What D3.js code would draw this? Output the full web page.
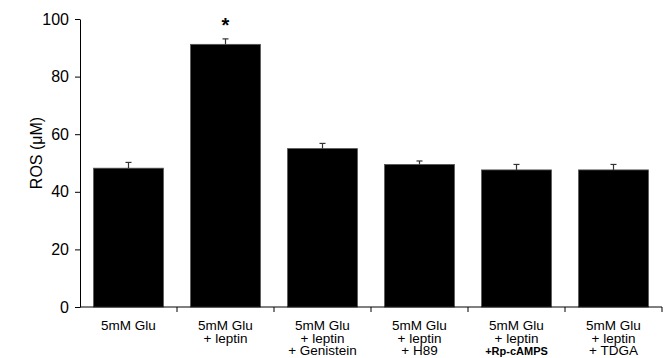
<!DOCTYPE html>
<html>
<head>
<meta charset="utf-8">
<script src="https://cdn.jsdelivr.net/npm/d3@7"></script>
<style>
  body { margin: 0; background: #fff; }
  svg { font-family: "Liberation Sans", Arial, sans-serif; }
</style>
</head>
<body>
<svg id="chart" width="666" height="358"></svg>
<script>
// data
var groups = ["g1", "g2", "g3", "g4", "g5", "g6"];
var labels = [
  ["5mM Glu"],
  ["5mM Glu", "+ leptin"],
  ["5mM Glu", "+ leptin", "+ Genistein"],
  ["5mM Glu", "+ leptin", "+ H89"],
  ["5mM Glu", "+ leptin", "+Rp-cAMPS"],
  ["5mM Glu", "+ leptin", "+ TDGA"]
];
var values = [48.2, 91.2, 55.0, 49.5, 47.6, 47.6];
var errors = [2.0, 1.9, 1.8, 1.2, 1.9, 1.9];
var signif = [false, true, false, false, false, false];
var yTicks = [0, 20, 40, 60, 80, 100];

var svg = d3.select("#chart"),
	mLeft = 80, mRight = 662, mTop = 19, mBottom = 307;

var x = d3.scaleBand()
	.domain(groups)
	.range([mLeft, mRight])
	.paddingInner(0.28)
	.paddingOuter(0.14);

var y = d3.scaleLinear()
	.domain([0, 100])
	.range([mBottom, mTop]);

// bars
svg.selectAll("rect.bar")
	.data(values)
	.enter().append("rect")
	.attr("class", "bar")
	.attr("x", function(d, i) { return x(groups[i]); })
	.attr("y", function(d) { return y(d); })
	.attr("width", x.bandwidth())
	.attr("height", function(d) { return y(0) - y(d); })
	.attr("fill", "#000")
	.attr("stroke", "#555")
	.attr("stroke-width", 0.8);

// error bars
var eb = svg.selectAll("g.err")
	.data(values)
	.enter().append("g")
	.attr("class", "err")
	.attr("stroke", "#333")
	.attr("stroke-width", 1.2);

eb.append("line")
	.attr("x1", function(d, i) { return x(groups[i]) + x.bandwidth() / 2; })
	.attr("x2", function(d, i) { return x(groups[i]) + x.bandwidth() / 2; })
	.attr("y1", function(d) { return y(d); })
	.attr("y2", function(d, i) { return y(d + errors[i]); });

eb.append("line")
	.attr("x1", function(d, i) { return x(groups[i]) + x.bandwidth() / 2 - 3; })
	.attr("x2", function(d, i) { return x(groups[i]) + x.bandwidth() / 2 + 3; })
	.attr("y1", function(d, i) { return y(d + errors[i]); })
	.attr("y2", function(d, i) { return y(d + errors[i]); });

// significance star
var si = signif.indexOf(true);
svg.append("text")
	.attr("x", x(groups[si]) + x.bandwidth() / 2)
	.attr("y", y(values[si] + errors[si]) - 7)
	.attr("text-anchor", "middle")
	.attr("font-size", 20)
	.attr("font-weight", "bold")
	.text("*");

// y axis
var yAxis = svg.append("g")
	.attr("transform", "translate(" + mLeft + ",0)")
	.call(d3.axisLeft(y).tickValues(yTicks).tickSize(5).tickPadding(6).tickSizeOuter(0));
yAxis.select(".domain").attr("stroke", "#000");
yAxis.selectAll("text").attr("font-size", 16).attr("fill", "#000")
	.attr("font-family", "'Liberation Sans', Arial, sans-serif");

// x axis: ticks at group boundaries
var edges = groups.map(function(g) { return x(g) - x.step() * x.paddingInner() / 2; });
edges.push(mRight);
svg.append("line")
	.attr("x1", mLeft).attr("x2", mRight)
	.attr("y1", mBottom).attr("y2", mBottom)
	.attr("stroke", "#000");
svg.selectAll("line.xt")
	.data(edges.slice(1))
	.enter().append("line")
	.attr("class", "xt")
	.attr("x1", function(d) { return d; })
	.attr("x2", function(d) { return d; })
	.attr("y1", mBottom).attr("y2", mBottom + 5)
	.attr("stroke", "#000");

// category labels
var lab = svg.selectAll("text.cat")
	.data(labels)
	.enter().append("text")
	.attr("class", "cat")
	.attr("text-anchor", "middle")
	.attr("font-size", 13.5)
	.attr("fill", "#000");

lab.selectAll("tspan")
	.data(function(d, i) { return d.map(function(t) { return { t: t, i: i }; }); })
	.enter().append("tspan")
	.attr("x", function(d) { return x(groups[d.i]) + x.bandwidth() / 2; })
	.attr("y", function(d, j) { return 330 + j * 12.7; })
	.style("font-weight", function(d) { return d.t === "+Rp-cAMPS" ? "bold" : null; })
	.style("font-size", function(d) { return d.t === "+Rp-cAMPS" ? "11px" : null; })
	.text(function(d) { return d.t; });

// y label
svg.append("text")
	.attr("transform", "translate(42,153) rotate(-90)")
	.attr("text-anchor", "middle")
	.attr("font-size", 16)
	.text("ROS (\u03bcM)");
</script>
</body>
</html>
